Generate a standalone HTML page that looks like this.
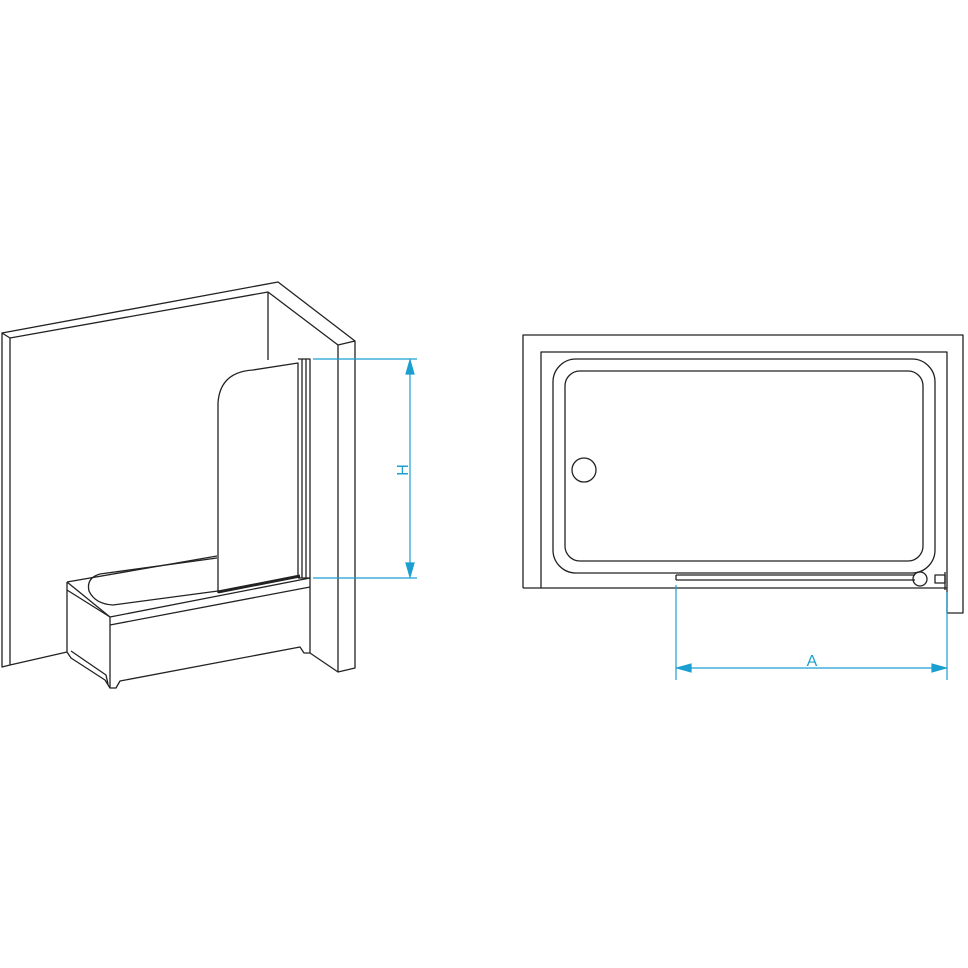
<!DOCTYPE html>
<html><head><style>body{margin:0;background:#fff}svg{display:block}</style></head><body>
<svg width="968" height="968" viewBox="0 0 968 968" xmlns="http://www.w3.org/2000/svg">
<g fill="none" stroke="#222" stroke-width="1.3" stroke-linejoin="round">
<!-- walls -->
<path d="M2,333 L278,282 L355,341 L355,668 L338,672 L338,345 L355,341"/>
<path d="M2,333 L10,338 L10,665 L2,667 Z"/>
<path d="M10,338 L268,292 L338,345"/>
<path d="M268,292 L268,360"/>
<path d="M10,665 L67,652"/>
<path d="M310,653 L338,672"/>
<!-- tub -->
<path d="M67,582 L217,556" />
<path d="M67,582 L67,590 L110,617 L110,625 L310,587 L310,578 L110,617"/>
<path d="M67,582 L110,617"/>
<path d="M67,590 L67,652 L71,658 L105,680 L110,688 L116,688 L120,681 L300,647 L304,653 L310,653 L310,587"/>
<path d="M110,625 L110,688"/>
<path d="M71,651 L106,675 L108,684"/>
<path d="M100,574 Q86,578 89,591 Q95,604 113,605 L218,591"/>
<path d="M100,574 L217,558"/>
<!-- panel -->
<path d="M218,593 L218,403 Q220,372 253,370 L298,363 L298,578"/>
<path d="M298,359 L310,359 L310,578 L298,578"/>
<path d="M302,359 L302,578 M306,359 L306,578"/>
<path d="M218,592 L300,576" stroke-width="3"/>
<!-- right plan -->
<path d="M523,588 L523,335 L963,335 L963,613 L947,613 L947,352 L541,352 L541,588"/>
<path d="M523,588 L947,588"/>
<rect x="553" y="359" width="382" height="214" rx="23"/>
<rect x="565" y="371" width="358" height="190" rx="15"/>
<circle cx="584" cy="470" r="12"/>
<path d="M676,575 L915,575 M676,580 L915,580 M676,575 L676,580"/>
<circle cx="920" cy="579" r="7"/>
<rect x="935" y="575" width="10" height="8"/>
<path d="M945,572 L945,590"/>
</g>
<g stroke="#1a9fd0" stroke-width="1.2" fill="#1a9fd0">
<path d="M313,359 L417,359 M313,578 L417,578 M410,362 L410,575 M676,585 L676,680 M947,592 L947,680 M679,668 L944,668" fill="none"/>
<path d="M410,360 L406,374 L414,374 Z M410,577 L406,563 L414,563 Z M677,668 L691,664 L691,672 Z M946,668 L932,664 L932,672 Z"/>
<text x="0" y="0" transform="translate(408,470) rotate(-90)" text-anchor="middle" font-family="Liberation Sans, sans-serif" font-size="16" stroke="none">H</text>
<text x="812" y="666" text-anchor="middle" font-family="Liberation Sans, sans-serif" font-size="16" stroke="none">A</text>
</g>
</svg>
</body></html>
